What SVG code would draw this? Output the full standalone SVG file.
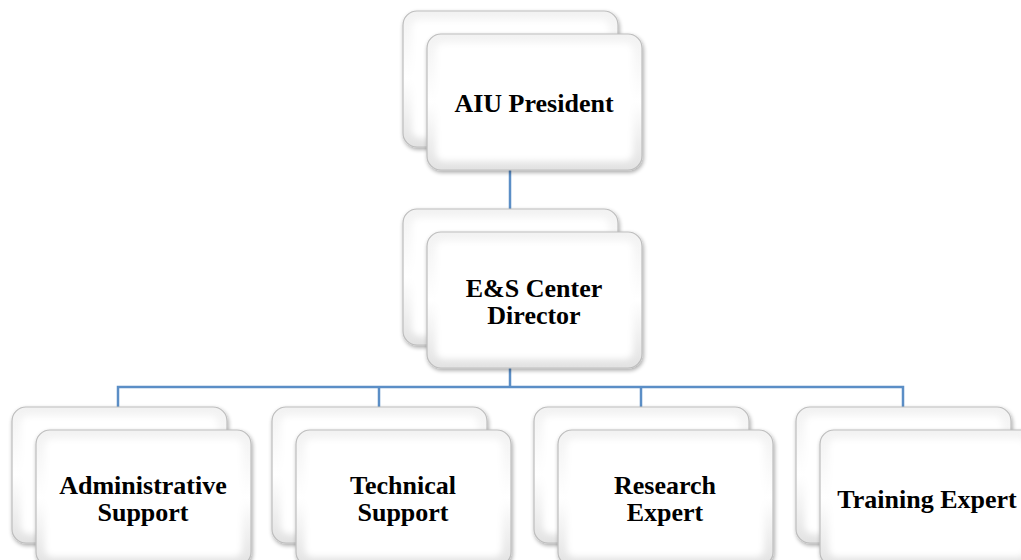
<svg xmlns="http://www.w3.org/2000/svg" xmlns:xlink="http://www.w3.org/1999/xlink" width="1021" height="560" viewBox="0 0 1021 560">
  <defs>
    <linearGradient id="bevel" x1="0" y1="0" x2="0" y2="1">
      <stop offset="0" stop-color="#f2f2f2"/>
      <stop offset="0.5" stop-color="#ffffff"/>
      <stop offset="1" stop-color="#e2e2e2"/>
    </linearGradient>
    <filter id="shadow" x="-10%" y="-10%" width="125%" height="130%">
      <feGaussianBlur in="SourceAlpha" stdDeviation="2"/>
      <feOffset dx="1" dy="2" result="b"/>
      <feComponentTransfer><feFuncA type="linear" slope="0.35"/></feComponentTransfer>
      <feMerge><feMergeNode/><feMergeNode in="SourceGraphic"/></feMerge>
    </filter>
    <filter id="soft" x="-10%" y="-10%" width="120%" height="120%">
      <feGaussianBlur stdDeviation="3"/>
    </filter>
    <!-- one bevelled card, 215 x 136 -->
    <g id="card">
      <rect x="0" y="0" width="215" height="136" rx="14" fill="url(#bevel)" stroke="#bdbdbd" stroke-width="1.2" filter="url(#shadow)"/>
      <rect x="9" y="9" width="197" height="118" rx="8" fill="#ffffff" filter="url(#soft)"/>
    </g>
  </defs>
  <style>
    .lbl { font-family: "Liberation Serif", "Times New Roman", serif; font-weight: bold; font-size: 26px; fill: #000; text-anchor: middle; }
    .link { fill: none; stroke: #5b8ec6; stroke-width: 2.5; }
  </style>

  <rect width="1021" height="560" fill="#ffffff"/>

  <g id="connectors">
    <path class="link" d="M510 168 V209"/>
    <path class="link" d="M510 368 V387 M118 407 V387 H903 V407 M379 387 V407 M641 387 V407"/>
  </g>

  <g id="node-president">
    <use xlink:href="#card" x="403" y="11"/>
    <use xlink:href="#card" x="427" y="34"/>
    <text class="lbl" x="534" y="112">AIU President</text>
  </g>

  <g id="node-director">
    <use xlink:href="#card" x="403" y="209"/>
    <use xlink:href="#card" x="427" y="232"/>
    <text class="lbl" x="534" y="297">E&amp;S Center</text>
    <text class="lbl" x="534" y="324">Director</text>
  </g>

  <g id="node-admin">
    <use xlink:href="#card" x="12" y="407"/>
    <use xlink:href="#card" x="36" y="430"/>
    <text class="lbl" x="143" y="494">Administrative</text>
    <text class="lbl" x="143" y="521">Support</text>
  </g>

  <g id="node-technical">
    <use xlink:href="#card" x="272" y="407"/>
    <use xlink:href="#card" x="296" y="430"/>
    <text class="lbl" x="403" y="494">Technical</text>
    <text class="lbl" x="403" y="521">Support</text>
  </g>

  <g id="node-research">
    <use xlink:href="#card" x="534" y="407"/>
    <use xlink:href="#card" x="558" y="430"/>
    <text class="lbl" x="665" y="494">Research</text>
    <text class="lbl" x="665" y="521">Expert</text>
  </g>

  <g id="node-training">
    <use xlink:href="#card" x="796" y="407"/>
    <use xlink:href="#card" x="820" y="430"/>
    <text class="lbl" x="927" y="508">Training Expert</text>
  </g>
</svg>
